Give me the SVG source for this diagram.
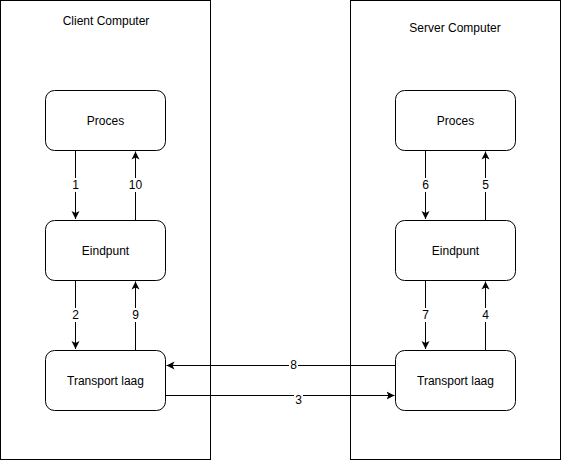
<svg xmlns="http://www.w3.org/2000/svg" width="561" height="461" viewBox="0 0 561 461">
<defs>
<style>
.c{fill:#fff;stroke:#000;stroke-width:1}
.n{fill:#fff;stroke:#000;stroke-width:1}
.t{font-family:"Liberation Sans",Arial,sans-serif;font-size:12px;fill:#000;text-anchor:middle;dominant-baseline:central}
.e{fill:none;stroke:#000;stroke-width:1;marker-end:url(#a)}
.lb{fill:#fff}
</style>
<marker id="a" markerWidth="10" markerHeight="10" refX="8" refY="4" orient="auto" markerUnits="userSpaceOnUse" viewBox="0 0 10 8">
<path d="M0,0 L8,4 L0,8 L2,4 Z" fill="#000"/>
</marker>
</defs>
<rect width="561" height="461" fill="#fff"/>
<g id="client">
<rect class="c" x="0.5" y="0.5" width="210" height="459"/>
<text class="t" x="106" y="21">Client Computer</text>
</g>
<g id="server">
<rect class="c" x="350.5" y="0.5" width="210" height="459"/>
<text class="t" x="455" y="28">Server Computer</text>
</g>
<g id="edges">
<path class="e" d="M75.5,150.5 V219"/>
<path class="e" d="M135.5,220.5 V151.5"/>
<path class="e" d="M75.5,280.5 V349"/>
<path class="e" d="M135.5,350.5 V281.5"/>
<path class="e" d="M425.5,150.5 V219"/>
<path class="e" d="M485.5,220.5 V151.5"/>
<path class="e" d="M425.5,280.5 V349"/>
<path class="e" d="M485.5,350.5 V281.5"/>
<path class="e" d="M395.5,365.5 H166.5"/>
<path class="e" d="M165.5,395.5 H394.5"/>
<rect class="lb" x="71" y="178" width="9" height="14"/><text class="t" x="75.5" y="185">1</text>
<rect class="lb" x="128" y="178" width="15" height="14"/><text class="t" x="135.5" y="185">10</text>
<rect class="lb" x="71" y="308" width="9" height="14"/><text class="t" x="75.5" y="315">2</text>
<rect class="lb" x="131" y="308" width="9" height="14"/><text class="t" x="135.5" y="315">9</text>
<rect class="lb" x="421" y="178" width="9" height="14"/><text class="t" x="425.5" y="185">6</text>
<rect class="lb" x="481" y="178" width="9" height="14"/><text class="t" x="485.5" y="185">5</text>
<rect class="lb" x="421" y="308" width="9" height="14"/><text class="t" x="425.5" y="315">7</text>
<rect class="lb" x="481" y="308" width="9" height="14"/><text class="t" x="485.5" y="315">4</text>
<rect class="lb" x="289" y="358" width="9" height="14"/><text class="t" x="293.5" y="365">8</text>
<rect class="lb" x="294" y="394" width="9" height="13"/><text class="t" x="298.5" y="400">3</text>
</g>
<g id="proces-client">
<rect class="n" x="45.5" y="90.5" width="120" height="60" rx="9"/>
<text class="t" x="105.5" y="120.5">Proces</text>
</g>
<g id="eindpunt-client">
<rect class="n" x="45.5" y="220.5" width="120" height="60" rx="9"/>
<text class="t" x="105.5" y="250.5">Eindpunt</text>
</g>
<g id="transport-client">
<rect class="n" x="45.5" y="350.5" width="120" height="60" rx="9"/>
<text class="t" x="105.5" y="380.5">Transport laag</text>
</g>
<g id="proces-server">
<rect class="n" x="395.5" y="90.5" width="120" height="60" rx="9"/>
<text class="t" x="455.5" y="120.5">Proces</text>
</g>
<g id="eindpunt-server">
<rect class="n" x="395.5" y="220.5" width="120" height="60" rx="9"/>
<text class="t" x="455.5" y="250.5">Eindpunt</text>
</g>
<g id="transport-server">
<rect class="n" x="395.5" y="350.5" width="120" height="60" rx="9"/>
<text class="t" x="455.5" y="380.5">Transport laag</text>
</g>
</svg>
